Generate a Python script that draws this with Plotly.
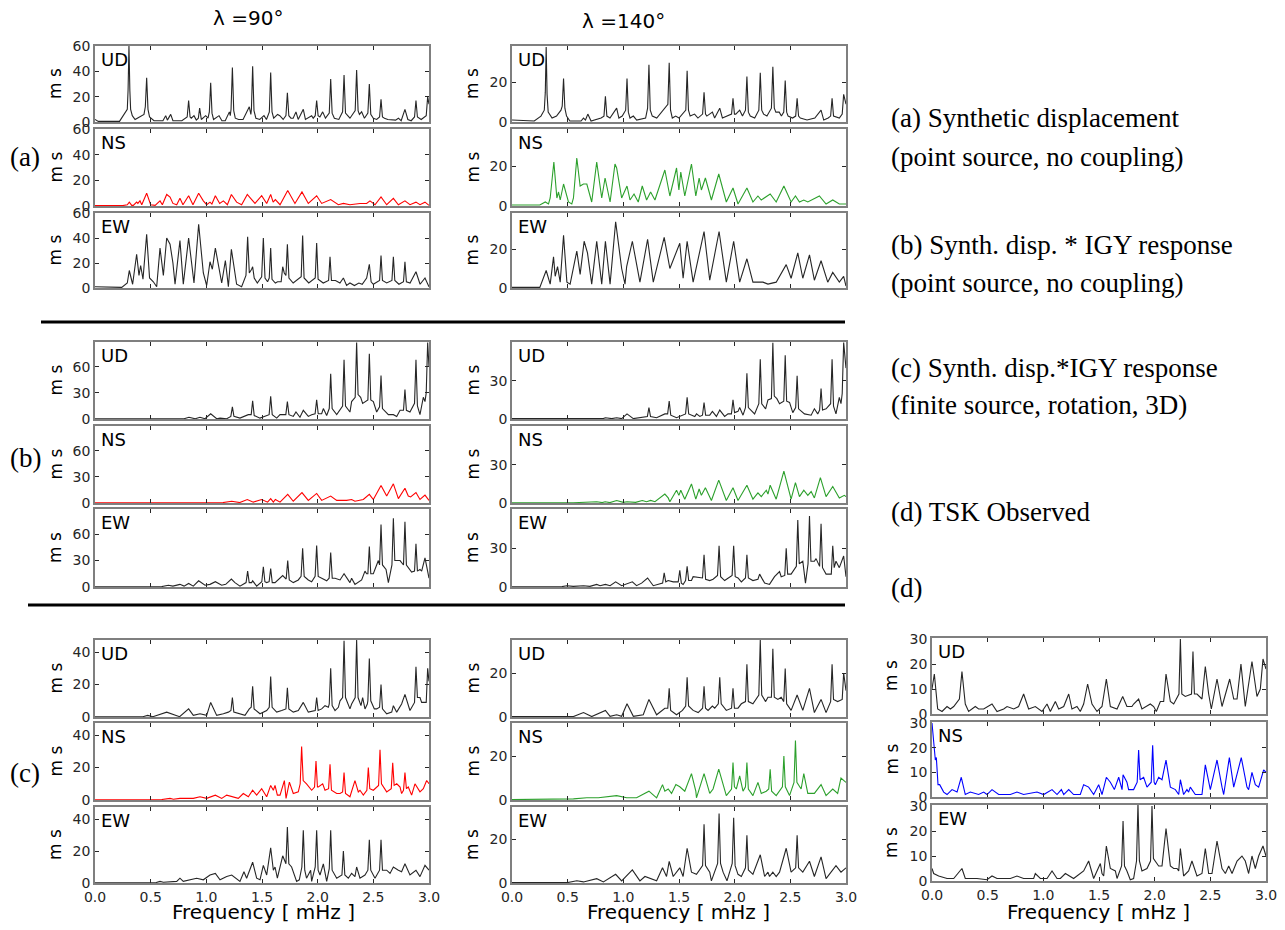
import plotly.graph_objects as go

# ---------------- data: (frequency mHz, amplitude m s) ----------------
A90_UD = [(0.00,2),(0.03,0.5),(0.22,0.5),(0.27,7),(0.29,10),(0.297,25),(0.305,60),(0.313,25),(0.32,10),(0.335,5),(0.36,2),(0.38,3),(0.44,6),(0.452,12),(0.464,35),(0.476,10),(0.49,4),(0.53,1),(0.61,1),(0.635,5),(0.65,1.5),(0.68,6),(0.70,1),(0.78,1),(0.81,3),(0.828,4),(0.841,17),(0.854,4),(0.865,3),(0.889,5),(0.91,1.5),(0.928,3),(0.94,11),(0.955,2),(0.994,5),(1.015,3),(1.027,8),(1.039,31),(1.051,7),(1.065,2),(1.114,5),(1.14,1),(1.17,1),(1.207,8),(1.215,5),(1.222,10),(1.234,43),(1.246,9),(1.26,3),(1.29,2),(1.33,2),(1.386,12),(1.40,6),(1.405,10),(1.416,44),(1.428,9),(1.445,3),(1.48,2),(1.518,5),(1.54,2),(1.566,8),(1.578,39),(1.590,8),(1.605,3),(1.64,6),(1.66,5),(1.69,2),(1.715,5),(1.728,23),(1.741,5),(1.76,3),(1.78,3),(1.805,8),(1.825,2),(1.871,10),(1.89,2),(1.946,5),(1.96,3),(1.978,5),(1.991,17),(2.004,5),(2.02,4),(2.045,8),(2.07,3),(2.104,7),(2.117,34),(2.130,7),(2.15,3),(2.19,2),(2.224,8),(2.237,37),(2.250,7),(2.27,5),(2.29,3),(2.337,9),(2.35,41),(2.363,9),(2.375,6),(2.395,8),(2.42,3),(2.451,7),(2.464,30),(2.477,6),(2.50,3),(2.53,2),(2.556,4),(2.569,18),(2.582,4),(2.60,3),(2.63,2),(2.70,1.5),(2.725,3),(2.75,1),(2.784,10),(2.81,2),(2.84,1),(2.870,4),(2.883,17),(2.896,4),(2.93,2),(2.975,5),(2.988,20),(3.0,14)]
A90_NS = [(0,0.3),(0.25,0.3),(0.29,1),(0.308,3),(0.33,0.5),(0.344,0.5),(0.374,3),(0.385,2),(0.404,4),(0.42,1),(0.464,10),(0.50,1),(0.54,0.5),(0.584,4),(0.605,1),(0.644,9),(0.674,7),(0.70,2),(0.734,1),(0.763,6),(0.79,1),(0.841,8),(0.88,1),(0.931,10),(0.973,4),(1.003,1),(1.033,3),(1.05,1.5),(1.081,8),(1.12,2),(1.153,4),(1.189,1),(1.225,9),(1.272,3),(1.317,1),(1.368,9),(1.398,6),(1.437,2),(1.497,8),(1.542,2),(1.578,9),(1.60,3),(1.62,5),(1.662,1),(1.731,12),(1.796,2),(1.859,11),(1.916,2),(1.991,8),(2.036,2),(2.117,5),(2.186,1),(2.231,2),(2.29,1),(2.38,2),(2.44,2),(2.47,4),(2.515,1),(2.569,7),(2.62,1),(2.68,6),(2.725,1),(2.784,4),(2.829,1),(2.883,3),(2.919,1),(2.964,3),(3.0,0.5)]
A90_EW = [(0,1),(0.24,0.5),(0.29,4),(0.308,14),(0.338,3),(0.374,27),(0.395,10),(0.41,18),(0.431,7),(0.464,43),(0.49,8),(0.524,5),(0.554,1),(0.584,32),(0.614,10),(0.644,40),(0.674,35),(0.70,20),(0.719,3),(0.763,38),(0.793,3),(0.841,40),(0.889,4),(0.931,51),(0.973,12),(1.003,2),(1.033,21),(1.054,15),(1.081,32),(1.138,4),(1.171,22),(1.198,1),(1.225,31),(1.272,3),(1.317,1),(1.356,10),(1.371,41),(1.386,12),(1.407,15),(1.416,17),(1.43,8),(1.458,4),(1.497,9),(1.512,40),(1.527,8),(1.55,5),(1.565,8),(1.578,32),(1.59,7),(1.62,4),(1.64,5),(1.672,5),(1.686,17),(1.700,12),(1.715,10),(1.728,35),(1.742,8),(1.78,4),(1.852,9),(1.865,42),(1.878,8),(1.92,4),(1.978,8),(1.991,36),(2.004,7),(2.05,4),(2.098,6),(2.111,25),(2.124,6),(2.16,6),(2.20,4),(2.231,8),(2.26,2),(2.29,4),(2.33,2),(2.37,4),(2.40,3),(2.44,8),(2.464,19),(2.48,5),(2.50,3),(2.556,6),(2.569,26),(2.582,6),(2.62,4),(2.667,6),(2.68,25),(2.693,6),(2.73,3),(2.771,5),(2.784,21),(2.797,5),(2.83,4),(2.883,13),(2.92,3),(2.964,8),(3.0,1)]

A140_UD = [(0,1),(0.2,0.5),(0.26,3),(0.29,6),(0.299,15),(0.307,38),(0.315,14),(0.325,5),(0.36,2),(0.40,3),(0.44,6),(0.451,8),(0.463,22),(0.475,7),(0.49,3),(0.52,0.5),(0.62,0.5),(0.642,2),(0.66,1),(0.681,4),(0.71,0.5),(0.80,2),(0.826,3),(0.839,13),(0.852,3),(0.88,2),(0.94,7),(0.96,2),(0.99,3),(1.021,6),(1.033,22),(1.045,5),(1.06,2),(1.09,3),(1.12,1),(1.20,2),(1.218,7),(1.230,29),(1.242,6),(1.26,3),(1.30,2),(1.39,8),(1.400,9),(1.412,30),(1.424,6),(1.44,2),(1.47,3),(1.50,2),(1.561,6),(1.573,26),(1.585,6),(1.60,3),(1.64,4),(1.67,2),(1.712,4),(1.725,15),(1.738,4),(1.75,3),(1.80,5),(1.82,2),(1.866,7),(1.89,2),(1.94,3),(1.972,4),(1.985,12),(1.998,4),(2.01,4),(2.045,6),(2.07,3),(2.097,6),(2.110,23),(2.123,5),(2.14,3),(2.18,2),(2.217,6),(2.230,25),(2.243,6),(2.26,4),(2.29,3),(2.330,7),(2.343,28),(2.356,7),(2.37,5),(2.40,5),(2.42,3),(2.441,5),(2.454,21),(2.467,5),(2.48,3),(2.52,2),(2.548,3),(2.561,12),(2.574,3),(2.59,2),(2.65,1),(2.72,2),(2.776,6),(2.80,1),(2.84,2),(2.862,3),(2.875,12),(2.888,3),(2.94,2),(2.966,4),(2.979,14),(3.0,9)]
A140_NS = [(0,0.5),(0.25,0.5),(0.299,2),(0.328,1),(0.343,4),(0.376,22),(0.403,4),(0.418,7),(0.433,3),(0.463,11),(0.507,2),(0.537,1),(0.552,4),(0.582,24),(0.612,10),(0.642,11),(0.672,11),(0.716,2),(0.761,22),(0.806,4),(0.836,14),(0.881,2),(0.925,21),(0.94,19),(0.985,4),(1.033,10),(1.06,3),(1.096,6),(1.134,2),(1.170,10),(1.209,3),(1.245,7),(1.284,3),(1.352,15),(1.373,18),(1.418,5),(1.478,19),(1.499,8),(1.516,17),(1.552,5),(1.612,21),(1.651,5),(1.681,14),(1.701,8),(1.737,14),(1.791,3),(1.857,16),(1.925,2),(1.985,9),(2.030,1),(2.110,9),(2.164,2),(2.209,5),(2.239,3),(2.319,6),(2.373,2),(2.442,10),(2.507,2),(2.546,5),(2.582,2),(2.621,3),(2.657,2),(2.761,5),(2.821,1),(2.881,3),(2.940,1),(3.0,1)]
A140_EW = [(0,0.3),(0.25,0.3),(0.307,9),(0.343,2),(0.373,16),(0.388,6),(0.409,11),(0.433,3),(0.463,27),(0.493,3),(0.522,2),(0.582,19),(0.612,7),(0.648,24),(0.678,18),(0.716,2),(0.761,24),(0.806,2),(0.839,24),(0.881,2),(0.931,34),(0.985,10),(1.015,2),(1.030,11),(1.081,24),(1.149,3),(1.218,25),(1.269,3),(1.367,26),(1.418,10),(1.507,23),(1.537,5),(1.573,24),(1.627,3),(1.725,29),(1.776,4),(1.860,29),(1.925,3),(1.991,24),(2.045,3),(2.110,15),(2.164,3),(2.254,3),(2.299,2),(2.373,3),(2.403,6),(2.463,12),(2.507,5),(2.567,18),(2.612,5),(2.672,17),(2.716,4),(2.776,14),(2.836,3),(2.881,8),(2.940,3),(2.979,6),(3.0,1)]

B90_UD = [(0,0.3),(0.80,0.3),(0.844,2),(0.90,0.3),(0.943,2),(0.988,0.3),(1.039,6),(1.093,0.3),(1.123,1),(1.183,0.3),(1.220,3),(1.234,14),(1.248,3),(1.302,1),(1.377,5),(1.403,5),(1.416,21),(1.430,4),(1.482,1),(1.527,3),(1.564,5),(1.578,26),(1.592,5),(1.632,1),(1.662,5),(1.714,5),(1.728,20),(1.742,5),(1.781,3),(1.805,8),(1.841,2),(1.871,10),(1.916,3),(1.946,5),(1.977,6),(1.991,22),(2.005,6),(2.036,6),(2.051,12),(2.081,4),(2.104,12),(2.117,52),(2.130,12),(2.171,5),(2.224,15),(2.237,68),(2.250,15),(2.290,8),(2.305,20),(2.337,25),(2.350,88),(2.363,28),(2.386,25),(2.404,18),(2.451,22),(2.464,75),(2.477,22),(2.50,20),(2.530,8),(2.556,14),(2.569,50),(2.582,12),(2.635,5),(2.680,5),(2.710,3),(2.740,10),(2.771,10),(2.784,34),(2.797,10),(2.829,8),(2.870,18),(2.883,68),(2.896,15),(2.919,5),(2.949,25),(2.964,20),(2.975,30),(2.988,88),(3.0,60)]
B90_NS = [(0,0.2),(0.75,0.2),(0.943,1),(1.0,0.3),(1.033,1),(1.093,1),(1.15,0.5),(1.228,2),(1.30,0.5),(1.368,4),(1.422,1),(1.497,4),(1.55,1),(1.578,5),(1.602,1),(1.620,4),(1.662,1),(1.731,10),(1.781,2),(1.859,12),(1.916,3),(1.991,11),(2.036,3),(2.117,8),(2.171,3),(2.260,3),(2.305,4),(2.335,2),(2.410,4),(2.464,10),(2.50,4),(2.569,20),(2.620,8),(2.680,22),(2.725,5),(2.784,17),(2.814,8),(2.835,7),(2.883,12),(2.919,4),(2.964,9),(3.0,3)]
B90_EW = [(0,0.3),(0.50,0.5),(0.554,1),(0.60,0.5),(0.659,2),(0.70,1),(0.763,3),(0.80,1),(0.841,4),(0.883,1),(0.931,7),(0.988,2),(1.033,3),(1.081,6),(1.138,2),(1.174,3),(1.225,9),(1.257,5),(1.302,1),(1.357,5),(1.371,18),(1.385,5),(1.407,5),(1.416,7),(1.452,1),(1.498,6),(1.512,23),(1.526,6),(1.542,5),(1.564,6),(1.578,21),(1.592,5),(1.617,5),(1.686,13),(1.717,9),(1.731,30),(1.745,8),(1.781,5),(1.826,8),(1.851,12),(1.865,44),(1.879,12),(1.916,8),(1.946,6),(1.977,12),(1.991,47),(2.005,12),(2.036,10),(2.081,7),(2.103,10),(2.117,39),(2.131,10),(2.156,10),(2.201,8),(2.237,15),(2.290,5),(2.305,10),(2.335,3),(2.395,8),(2.425,18),(2.440,15),(2.451,15),(2.464,46),(2.477,15),(2.50,15),(2.545,30),(2.556,25),(2.569,71),(2.582,25),(2.614,20),(2.635,5),(2.667,25),(2.680,78),(2.693,30),(2.725,30),(2.740,30),(2.771,25),(2.784,74),(2.797,25),(2.829,20),(2.844,17),(2.870,18),(2.883,49),(2.896,18),(2.919,20),(2.934,18),(2.964,33),(3.0,10)]

B140_UD = [(0,0.3),(0.82,0.3),(0.839,1),(0.896,0.3),(0.940,1),(0.985,0.3),(1.033,4),(1.090,0.3),(1.216,2),(1.230,9),(1.244,2),(1.299,1),(1.373,4),(1.398,4),(1.412,14),(1.426,3),(1.478,1),(1.559,4),(1.573,17),(1.587,4),(1.642,2),(1.657,4),(1.687,2),(1.711,3),(1.725,13),(1.739,3),(1.776,3),(1.800,6),(1.836,2),(1.866,7),(1.910,2),(1.940,4),(1.971,4),(1.985,15),(1.999,5),(2.030,6),(2.045,9),(2.075,3),(2.097,9),(2.110,36),(2.123,9),(2.179,4),(2.217,12),(2.230,47),(2.243,12),(2.278,8),(2.299,15),(2.330,16),(2.343,60),(2.356,18),(2.379,16),(2.403,12),(2.441,14),(2.454,50),(2.467,14),(2.493,13),(2.522,5),(2.548,9),(2.561,34),(2.574,8),(2.627,4),(2.687,3),(2.716,8),(2.746,4),(2.763,7),(2.776,24),(2.789,7),(2.821,8),(2.862,12),(2.875,47),(2.888,10),(2.910,4),(2.940,17),(2.955,12),(2.966,20),(2.979,60),(3.0,40)]
B140_NS = [(0,0.2),(0.55,0.2),(0.761,1),(0.81,0.3),(0.836,1),(0.88,0.3),(0.940,2),(1.0,0.5),(1.033,1),(1.11,0.5),(1.170,2),(1.209,1),(1.245,2),(1.284,1),(1.373,7),(1.403,4),(1.418,1),(1.478,10),(1.499,6),(1.516,10),(1.552,3),(1.612,15),(1.651,3),(1.681,11),(1.701,6),(1.737,12),(1.791,2),(1.857,18),(1.925,2),(1.985,12),(2.030,2),(2.110,14),(2.164,3),(2.209,8),(2.239,5),(2.284,10),(2.299,7),(2.319,14),(2.373,3),(2.442,25),(2.507,3),(2.546,16),(2.582,5),(2.621,10),(2.657,6),(2.687,9),(2.716,4),(2.770,20),(2.821,5),(2.881,13),(2.940,4),(2.985,6),(3.0,5)]
B140_EW = [(0,0.2),(0.45,0.3),(0.493,1),(0.55,0.5),(0.642,1),(0.70,0.5),(0.761,2),(0.791,1),(0.839,2),(0.881,1),(0.931,4),(0.985,1),(1.081,4),(1.119,1),(1.164,3),(1.218,7),(1.269,1),(1.353,3),(1.367,11),(1.381,4),(1.403,5),(1.448,4),(1.493,4),(1.507,13),(1.521,3),(1.537,2),(1.559,5),(1.573,16),(1.587,5),(1.612,5),(1.627,8),(1.711,7),(1.725,25),(1.739,6),(1.776,5),(1.806,6),(1.846,9),(1.860,32),(1.874,8),(1.910,5),(1.977,9),(1.991,32),(2.005,8),(2.030,7),(2.060,4),(2.097,7),(2.110,25),(2.123,7),(2.164,5),(2.209,6),(2.224,10),(2.269,3),(2.313,2),(2.358,8),(2.403,12),(2.418,8),(2.450,9),(2.463,30),(2.476,10),(2.507,10),(2.554,16),(2.567,52),(2.580,18),(2.612,20),(2.636,3),(2.659,18),(2.672,55),(2.685,20),(2.716,20),(2.731,22),(2.763,16),(2.776,49),(2.789,15),(2.821,10),(2.868,10),(2.881,32),(2.894,15),(2.910,20),(2.940,15),(2.979,24),(3.0,8)]

C90_UD = [(0,0.2),(0.43,0.2),(0.473,1),(0.52,0.2),(0.644,3),(0.76,0.2),(0.841,5),(0.883,1),(0.943,2),(1.003,1),(1.039,9),(1.093,1),(1.153,2),(1.198,3),(1.221,4),(1.234,12),(1.247,3),(1.302,2),(1.347,1),(1.386,5),(1.403,6),(1.416,19),(1.429,5),(1.482,2),(1.542,4),(1.565,6),(1.578,25),(1.591,6),(1.632,3),(1.677,4),(1.715,5),(1.728,18),(1.741,5),(1.781,3),(1.826,4),(1.871,9),(1.916,3),(1.978,4),(1.991,12),(2.004,4),(2.036,5),(2.066,7),(2.096,6),(2.104,8),(2.117,30),(2.130,7),(2.156,4),(2.186,6),(2.201,10),(2.224,12),(2.237,47),(2.250,12),(2.290,5),(2.305,8),(2.337,12),(2.350,47.5),(2.363,12),(2.389,7),(2.404,12),(2.425,5),(2.446,8),(2.451,10),(2.464,36),(2.477,10),(2.509,5),(2.530,5),(2.556,6),(2.569,20),(2.582,5),(2.620,2),(2.665,3),(2.680,7),(2.710,3),(2.754,8),(2.784,14),(2.829,4),(2.870,9),(2.883,31),(2.896,12),(2.919,12),(2.934,9),(2.975,9),(2.988,30),(3.0,22)]
C90_NS = [(0,0.2),(0.60,0.3),(0.674,1),(0.704,0.5),(0.763,1),(0.883,1),(0.943,2),(1.003,1),(1.081,3),(1.138,1),(1.183,3),(1.228,2),(1.287,1),(1.332,4),(1.377,2),(1.416,6),(1.452,3),(1.497,7),(1.542,2),(1.578,9),(1.602,6),(1.617,9),(1.638,3),(1.662,3),(1.701,12),(1.716,1),(1.746,11),(1.781,4),(1.826,5),(1.843,10),(1.856,33),(1.870,12),(1.90,10),(1.946,6),(1.972,8),(1.985,24),(1.998,8),(2.006,8),(2.045,10),(2.066,6),(2.098,7),(2.111,22),(2.124,6),(2.171,4),(2.201,4),(2.224,5),(2.237,17),(2.250,4),(2.290,2),(2.335,12),(2.365,5),(2.380,6),(2.410,3),(2.442,6),(2.455,20),(2.468,7),(2.50,6),(2.547,9),(2.560,31),(2.573,10),(2.620,5),(2.661,7),(2.674,23),(2.687,9),(2.710,10),(2.740,8),(2.754,4),(2.771,6),(2.784,17),(2.797,7),(2.814,8),(2.844,3),(2.874,10),(2.919,5),(2.949,7),(2.979,12),(3.0,10)]
C90_EW = [(0,0.2),(0.55,0.3),(0.584,1),(0.614,0.5),(0.734,1),(0.763,3),(0.793,1),(0.913,3),(0.973,2),(1.033,5),(1.081,6),(1.123,2),(1.183,4),(1.228,5),(1.302,1),(1.338,7),(1.362,3),(1.416,13),(1.452,3),(1.482,2),(1.512,11),(1.542,5),(1.578,22),(1.602,8),(1.617,10),(1.638,3),(1.686,17),(1.715,12),(1.728,35),(1.741,12),(1.766,10),(1.811,1),(1.835,2),(1.858,10),(1.871,33),(1.884,8),(1.900,3),(1.937,8),(1.946,1),(1.978,10),(1.991,33),(2.004,8),(2.021,5),(2.051,12),(2.081,1),(2.104,9),(2.117,33),(2.130,8),(2.171,3),(2.218,5),(2.231,20),(2.244,5),(2.275,3),(2.305,6),(2.335,4),(2.350,10),(2.380,3),(2.425,5),(2.451,8),(2.464,27),(2.477,8),(2.515,3),(2.556,8),(2.569,27),(2.582,8),(2.620,8),(2.650,6),(2.680,10),(2.725,8),(2.754,7),(2.784,12),(2.829,5),(2.883,8),(2.919,4),(2.964,11),(3.0,8)]

C140_UD = [(0,0.2),(0.40,0.2),(0.478,0.5),(0.552,0.2),(0.642,2),(0.716,0.2),(0.839,3),(0.881,0.3),(0.940,1),(0.985,0.3),(1.033,6),(1.090,0.3),(1.179,1),(1.230,8),(1.299,1),(1.373,4),(1.399,4),(1.412,13),(1.425,3),(1.478,1),(1.531,3),(1.560,5),(1.573,18),(1.586,5),(1.627,3),(1.672,2),(1.712,4),(1.725,14),(1.738,4),(1.761,3),(1.800,5),(1.821,4),(1.853,6),(1.866,18),(1.879,6),(1.925,3),(1.972,4),(1.985,13),(1.998,4),(2.030,4),(2.060,6),(2.097,7),(2.110,24),(2.123,7),(2.164,6),(2.217,10),(2.230,35),(2.243,10),(2.278,7),(2.299,9),(2.330,9),(2.343,31),(2.356,9),(2.388,8),(2.418,9),(2.441,7),(2.454,22),(2.467,6),(2.507,3),(2.561,10),(2.612,3),(2.672,13),(2.716,2),(2.776,8),(2.821,2),(2.862,7),(2.875,24),(2.888,8),(2.925,7),(2.966,8),(2.979,20),(3.0,12)]
C140_NS = [(0,0.2),(0.40,0.2),(0.552,0.5),(0.672,1),(0.776,1),(0.940,2),(1.030,1),(1.119,1),(1.230,4),(1.299,1),(1.352,7),(1.373,4),(1.403,5),(1.433,3),(1.472,7),(1.507,6),(1.552,4),(1.612,12),(1.651,4),(1.657,1),(1.725,12),(1.776,3),(1.806,5),(1.857,14),(1.925,2),(1.972,5),(1.985,17),(1.998,6),(2.015,5),(2.045,11),(2.075,4),(2.097,6),(2.110,17),(2.123,5),(2.164,2),(2.209,8),(2.239,3),(2.284,4),(2.306,5),(2.319,14),(2.332,4),(2.373,2),(2.429,6),(2.442,20),(2.455,6),(2.493,2),(2.533,8),(2.546,27),(2.559,8),(2.597,5),(2.621,12),(2.657,3),(2.716,3),(2.776,7),(2.821,2),(2.881,5),(2.925,3),(2.955,10),(3.0,8)]
C140_EW = [(0,0.2),(0.50,0.2),(0.582,1),(0.642,0.5),(0.761,2),(0.821,0.5),(0.931,4),(0.985,1),(1.081,6),(1.149,1),(1.194,3),(1.239,2),(1.299,1),(1.352,7),(1.388,3),(1.412,10),(1.448,3),(1.507,7),(1.537,3),(1.573,16),(1.612,5),(1.657,4),(1.712,8),(1.725,27),(1.738,8),(1.776,5),(1.791,1),(1.847,9),(1.860,32),(1.873,9),(1.896,5),(1.931,1),(1.978,9),(1.991,30),(2.004,8),(2.030,4),(2.060,3),(2.097,7),(2.110,22),(2.123,6),(2.164,4),(2.230,13),(2.269,3),(2.299,5),(2.313,3),(2.343,5),(2.373,3),(2.403,5),(2.463,16),(2.507,5),(2.548,7),(2.561,22),(2.574,7),(2.612,5),(2.672,10),(2.716,3),(2.776,12),(2.821,2),(2.910,8),(2.955,5),(3.0,7)]

D_UD = [(0,10),(0.021,16),(0.051,2),(0.090,1),(0.135,3),(0.165,2),(0.195,3),(0.225,5),(0.246,6),(0.269,17),(0.299,4),(0.329,1),(0.359,2),(0.389,3),(0.419,2),(0.464,2),(0.539,4),(0.584,1),(0.644,2),(0.674,3),(0.734,2),(0.778,3),(0.823,8),(0.868,2),(0.928,3),(0.988,1),(1.033,4),(1.063,1),(1.108,5),(1.138,2),(1.183,3),(1.228,8),(1.257,2),(1.302,3),(1.332,1),(1.362,4),(1.398,12),(1.437,4),(1.482,1),(1.527,3),(1.566,14),(1.602,3),(1.662,2),(1.713,7),(1.751,3),(1.796,3),(1.811,4),(1.856,6),(1.886,2),(1.961,4),(1.991,3),(2.015,1),(2.051,5),(2.081,5),(2.102,16),(2.141,5),(2.171,4),(2.218,8),(2.231,30),(2.244,8),(2.275,7),(2.331,8),(2.344,25),(2.357,8),(2.380,8),(2.425,6),(2.455,19),(2.485,8),(2.509,2),(2.560,14),(2.605,3),(2.674,14),(2.710,6),(2.740,6),(2.775,20),(2.814,3),(2.874,21),(2.919,7),(2.949,10),(2.973,22),(3.0,18)]
D_NS = [(0,30),(0.009,25),(0.030,15),(0.039,16),(0.054,5),(0.069,5),(0.105,2),(0.135,1),(0.180,3),(0.225,2),(0.263,8),(0.299,1),(0.344,2),(0.419,1),(0.464,2),(0.494,1),(0.539,3),(0.599,1),(0.704,1),(0.763,2),(0.823,1),(0.943,2),(1.003,1),(1.078,3),(1.123,1),(1.162,3),(1.183,1),(1.228,3),(1.272,1),(1.332,1),(1.362,5),(1.407,4),(1.452,1),(1.497,5),(1.527,1),(1.566,8),(1.602,6),(1.638,3),(1.677,8),(1.707,3),(1.716,9),(1.751,6),(1.766,3),(1.811,3),(1.843,6),(1.856,19),(1.869,7),(1.901,8),(1.931,4),(1.969,6),(1.982,21),(1.995,6),(2.006,5),(2.036,8),(2.066,7),(2.102,15),(2.141,4),(2.186,3),(2.216,1),(2.231,7),(2.260,1),(2.290,3),(2.305,2),(2.320,4),(2.365,1),(2.425,1),(2.455,13),(2.500,3),(2.560,15),(2.605,4),(2.620,1),(2.671,16),(2.710,4),(2.778,16),(2.829,4),(2.844,3),(2.874,10),(2.904,5),(2.934,4),(2.979,11),(3.0,10)]
D_EW = [(0,5),(0.015,3),(0.060,2),(0.135,1),(0.195,1),(0.269,5),(0.299,1),(0.404,1),(0.494,0.5),(0.539,2),(0.584,1),(0.704,1),(0.763,2),(0.823,1),(0.913,1),(0.928,3),(0.973,1),(1.033,1),(1.078,4),(1.123,1),(1.153,1),(1.198,3),(1.272,1),(1.332,3),(1.362,4),(1.407,8),(1.452,1),(1.512,7),(1.527,3),(1.542,2),(1.566,14),(1.602,5),(1.647,4),(1.662,1),(1.703,6),(1.716,24),(1.729,6),(1.751,4),(1.781,0.5),(1.811,1),(1.837,8),(1.850,31),(1.863,8),(1.886,4),(1.931,5),(1.963,8),(1.976,30),(1.989,9),(2.006,8),(2.036,6),(2.066,6),(2.102,21),(2.141,6),(2.171,5),(2.201,5),(2.216,4),(2.231,13),(2.260,2),(2.305,4),(2.335,8),(2.380,2),(2.425,3),(2.455,13),(2.485,3),(2.515,3),(2.560,16),(2.605,5),(2.635,3),(2.665,6),(2.695,3),(2.740,8),(2.784,10),(2.814,8),(2.844,3),(2.874,10),(2.904,5),(2.934,10),(2.973,14),(3.0,10)]

COMPONENTS = ["UD", "NS", "EW"]
X_TICKS = [0.0, 0.5, 1.0, 1.5, 2.0, 2.5, 3.0]
X_TICK_TEXT = ["0.0", "0.5", "1.0", "1.5", "2.0", "2.5", "3.0"]
Y_MAX = {("a", 0): 60, ("a", 1): 38.5, ("b", 0): 88.5, ("b", 1): 60.5,
         ("c", 0): 47.5, ("c", 1): 35, ("d", 2): 30.4}
Y_TICKS = {("a", 0): [0, 20, 40, 60], ("a", 1): [0, 20], ("b", 0): [0, 30, 60], ("b", 1): [0, 30],
           ("c", 0): [0, 20, 40], ("c", 1): [0, 20], ("d", 2): [0, 10, 20, 30]}
SERIES = {
    ("a", 0): [A90_UD, A90_NS, A90_EW], ("a", 1): [A140_UD, A140_NS, A140_EW],
    ("b", 0): [B90_UD, B90_NS, B90_EW], ("b", 1): [B140_UD, B140_NS, B140_EW],
    ("c", 0): [C90_UD, C90_NS, C90_EW], ("c", 1): [C140_UD, C140_NS, C140_EW],
    ("d", 2): [D_UD, D_NS, D_EW],
}
RIGHT_TEXT = ["(a) Synthetic displacement", "(point source, no coupling)",
              "(b) Synth. disp. * IGY response", "(point source, no coupling)",
              "(c) Synth. disp.*IGY response", "(finite source, rotation, 3D)",
              "(d) TSK Observed", "(d)"]

# ---------------- layout geometry (pixels) ----------------
W, H = 1285, 930
COLS = [(95, 429), (512, 846), (932, 1266)]
ROWS = {"a": [(46, 122), (129, 206), (213, 288)],
        "b": [(342, 419), (426, 503), (509, 587)],
        "c": [(640, 717), (723, 800), (807, 883)],
        "d": [(638, 714), (722, 797), (805, 881)]}
COLOR_NS = {0: "#ff0000", 1: "#2ca02c", 2: "#0000ff"}
DARK = "#262626"
FRAME = "#7f7f7f"
SANS = "DejaVu Sans"
SERIF = "Liberation Serif"
YTITLE_X = {0: 55, 1: 472, 2: 891}


def px(x):
    return x / W


def py(y):
    return 1 - y / H


def note(text, x, y, size, family=SANS, xanchor="center", yanchor="middle", angle=0):
    return dict(text=text, x=px(x), y=py(y), xref="paper", yref="paper",
                xanchor=xanchor, yanchor=yanchor, textangle=angle, showarrow=False,
                font=dict(family=family, size=size, color="black"))


fig = go.Figure()
layout = {}
annotations = []
k = 0
for (grp, col), comps in SERIES.items():
    x0, x1 = COLS[col]
    for i, series in enumerate(comps):
        k += 1
        top, bot = ROWS[grp][i]
        color = COLOR_NS[col] if i == 1 else DARK
        fig.add_trace(go.Scatter(
            x=[p[0] for p in series], y=[p[1] for p in series],
            mode="lines", line=dict(color=color, width=1.1),
            xaxis=f"x{k}", yaxis=f"y{k}", showlegend=False, hoverinfo="skip"))
        bottom_panel = (i == 2 and grp in ("c", "d"))
        layout[f"xaxis{k}"] = dict(
            domain=[px(x0), px(x1)], anchor=f"y{k}", range=[0, 3], automargin=False,
            tickvals=X_TICKS, ticktext=X_TICK_TEXT, showticklabels=bottom_panel,
            ticks="inside", ticklen=4, tickcolor=DARK, showgrid=False, zeroline=False,
            showline=True, linecolor=FRAME, linewidth=1.5, mirror="ticks",
            tickfont=dict(family=SANS, size=14, color=DARK))
        layout[f"yaxis{k}"] = dict(
            domain=[py(bot), py(top)], anchor=f"x{k}", range=[0, Y_MAX[(grp, col)]],
            automargin=False,
            tickvals=Y_TICKS[(grp, col)], ticks="inside", ticklen=4, tickcolor=DARK,
            showgrid=False, zeroline=False, showline=True, linecolor=FRAME,
            linewidth=1.5, mirror="ticks",
            tickfont=dict(family=SANS, size=14, color=DARK))
        annotations.append(note(COMPONENTS[i], x0 + 4, top + 1, 18, xanchor="left", yanchor="top"))
        annotations.append(note("m s", YTITLE_X[col], (top + bot) / 2, 17, angle=-90))

annotations.append(note("λ =90°", 248, 18, 20))
annotations.append(note("λ =140°", 623, 21, 20))
for cx in (263, 678, 1098):
    annotations.append(note("Frequency [ mHz ]", cx, 912, 20))
for lab, cy in (("(a)", 157), ("(b)", 458), ("(c)", 773)):
    annotations.append(note(lab, 25, cy, 27, family=SERIF))
for txt, cy in zip(RIGHT_TEXT, (118, 157, 245, 283, 368, 405, 512, 588)):
    annotations.append(note(txt, 889, cy, 27, family=SERIF, xanchor="left"))

shapes = [
    dict(type="line", xref="paper", yref="paper", x0=px(41), x1=px(845), y0=py(322), y1=py(322),
         line=dict(color="black", width=3)),
    dict(type="line", xref="paper", yref="paper", x0=px(28), x1=px(845), y0=py(605), y1=py(605),
         line=dict(color="black", width=3)),
]

fig.update_layout(**layout)
fig.update_layout(width=W, height=H,
                  margin=dict(l=0, r=0, t=0, b=0, pad=0, autoexpand=False),
                  paper_bgcolor="white", plot_bgcolor="white",
                  annotations=annotations, shapes=shapes, showlegend=False)
# the page's default 8px body margin would offset the figure; remove it
fig.write_html("out.html", config={"displayModeBar": False},
               post_script="document.body.style.margin='0';")
